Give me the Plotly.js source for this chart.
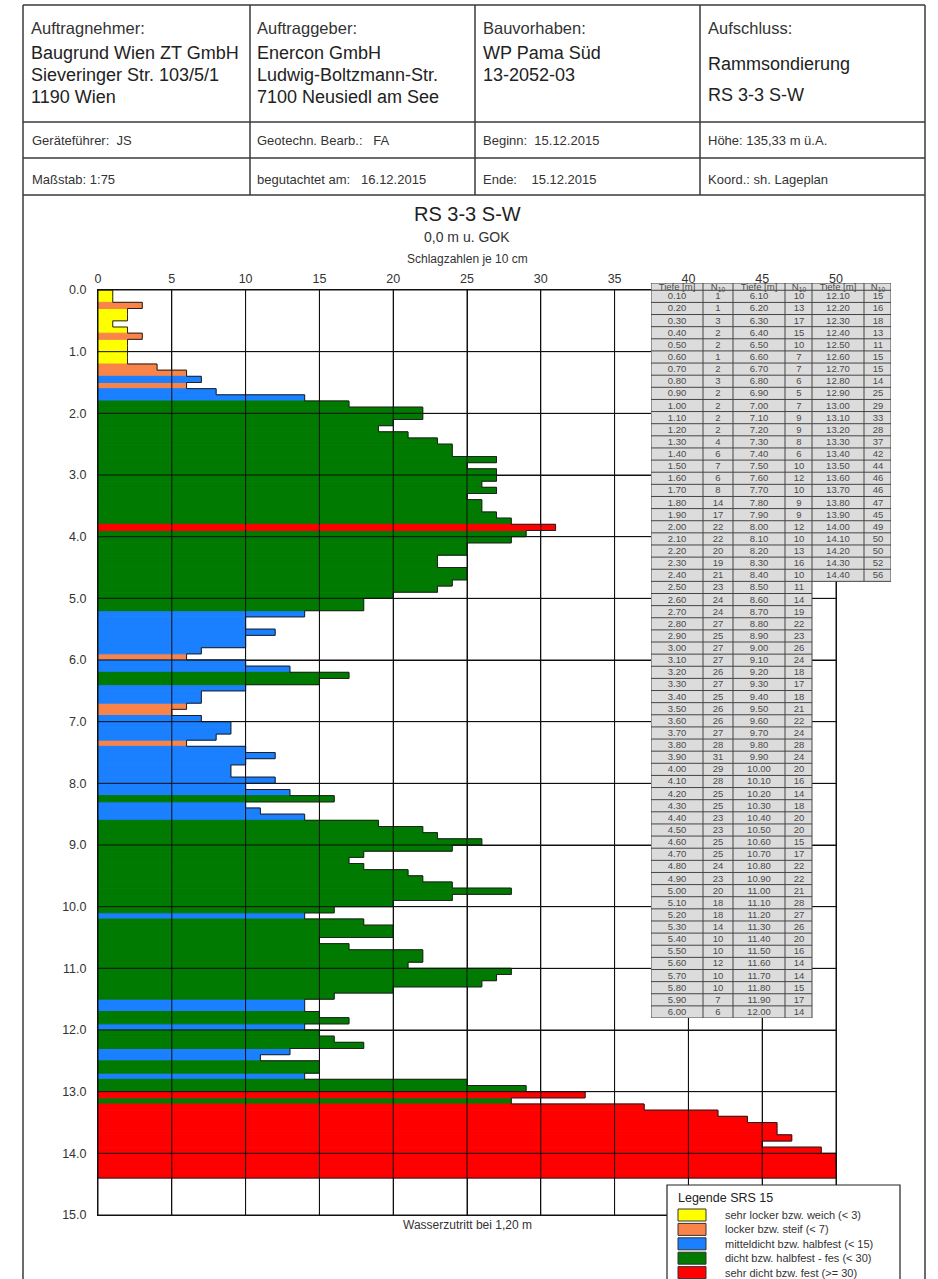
<!DOCTYPE html>
<html><head><meta charset="utf-8">
<script src="https://cdn.plot.ly/plotly-3.0.1.min.js"></script>
<style>html,body{margin:0;padding:0;background:#fff}#chart{width:938px;height:1279px}</style>
</head><body><div id="chart"></div>
<script>
// ---------- data ----------
const depths = [
0.1,0.2,0.3,0.4,0.5,0.6,0.7,0.8,0.9,1.0,
1.1,1.2,1.3,1.4,1.5,1.6,1.7,1.8,1.9,2.0,
2.1,2.2,2.3,2.4,2.5,2.6,2.7,2.8,2.9,3.0,
3.1,3.2,3.3,3.4,3.5,3.6,3.7,3.8,3.9,4.0,
4.1,4.2,4.3,4.4,4.5,4.6,4.7,4.8,4.9,5.0,
5.1,5.2,5.3,5.4,5.5,5.6,5.7,5.8,5.9,6.0,
6.1,6.2,6.3,6.4,6.5,6.6,6.7,6.8,6.9,7.0,
7.1,7.2,7.3,7.4,7.5,7.6,7.7,7.8,7.9,8.0,
8.1,8.2,8.3,8.4,8.5,8.6,8.7,8.8,8.9,9.0,
9.1,9.2,9.3,9.4,9.5,9.6,9.7,9.8,9.9,10.0,
10.1,10.2,10.3,10.4,10.5,10.6,10.7,10.8,10.9,11.0,
11.1,11.2,11.3,11.4,11.5,11.6,11.7,11.8,11.9,12.0,
12.1,12.2,12.3,12.4,12.5,12.6,12.7,12.8,12.9,13.0,
13.1,13.2,13.3,13.4,13.5,13.6,13.7,13.8,13.9,14.0,
14.1,14.2,14.3,14.4];
const blows = [
1,1,3,2,2,1,2,3,2,2,
2,2,4,6,7,6,8,14,17,22,
22,20,19,21,23,24,24,27,25,27,
27,26,27,25,26,26,27,28,31,29,
28,25,25,23,23,25,25,24,23,20,
18,18,14,10,10,12,10,10,7,6,
10,13,17,15,10,7,7,6,5,7,
9,9,8,6,10,12,10,9,9,12,
10,13,16,10,11,14,19,22,23,26,
24,18,17,18,21,22,24,28,24,20,
16,14,18,20,20,15,17,22,22,21,
28,27,26,20,16,14,14,15,17,14,
15,16,18,13,11,15,15,14,25,29,
33,28,37,42,44,46,46,47,45,49,
50,50,52,56];
const classNames = ['sehr locker bzw. weich (< 3)','locker bzw. steif (< 7)','mitteldicht bzw. halbfest (< 15)','dicht bzw. halbfest - fes (< 30)','sehr dicht bzw. fest (>= 30)'];
const classLimits = [3,7,15,30,Infinity];
const xTicks = [0,5,10,15,20,25,30,35,40,45,50];
const yTicks = [0,1,2,3,4,5,6,7,8,9,10,11,12,13,14,15];
const tableHeader = ['Tiefe [m]','N<sub>10</sub>','Tiefe [m]','N<sub>10</sub>','Tiefe [m]','N<sub>10</sub>'];
const tableRowsPerGroup = 60;
const legendTitle = 'Legende SRS 15';

// ---------- styles ----------
const classColors = ['#ffff00','#f9844a','#1a80ff','#007a00','#ff0000'];
const FONT = 'Liberation Sans, Arial, sans-serif';
const tableColWidths = [52,30,52,27,52,27];
const headerRowFrac = 0.6;
const W = 938, H = 1279;
const px = x => x / W, py = y => 1 - y / H;

const traces = [];
const binH = +(depths[1] - depths[0]).toFixed(3);

// bars per class
classLimits.forEach((lim, k) => {
  const lo = k === 0 ? -Infinity : classLimits[k-1];
  const xs = [], ys = [];
  blows.forEach((b, i) => { if (b >= lo && b < lim) { xs.push(b); ys.push(depths[i]); } });
  traces.push({type:'bar', orientation:'h', x:xs, y:ys, width:binH, offset:-binH,
    marker:{color:classColors[k], line:{width:1, color:classColors[k]}}, name:classNames[k],
    xaxis:'x', yaxis:'y', hoverinfo:'skip', showlegend:false});
});

// step outline of profile
traces.push({type:'scatter', mode:'lines', xaxis:'x', yaxis:'y',
  x:[0].concat(blows, [0]), y:[depths[0]-binH].concat(depths, [depths[depths.length-1]]),
  line:{shape:'hv', color:'#222', width:1}, hoverinfo:'skip', showlegend:false});

// grid on top of bars
const gx = [], gy = [];
xTicks.forEach(v => { gx.push(v, v, null); gy.push(yTicks[0], yTicks[yTicks.length-1], null); });
yTicks.forEach(v => { gx.push(xTicks[0], xTicks[xTicks.length-1], null); gy.push(v, v, null); });
traces.push({type:'scatter', mode:'lines', xaxis:'x', yaxis:'y', x:gx, y:gy,
  line:{color:'#111', width:1}, hoverinfo:'skip', showlegend:false});

// ---------- value table (heatmap cells on own axes) ----------
const groups = [];
for (let s = 0; s < depths.length; s += tableRowsPerGroup) {
  groups.push({d: depths.slice(s, s + tableRowsPerGroup), n: blows.slice(s, s + tableRowsPerGroup)});
}
const nCols = groups.length * 2;
const colCount = [];
groups.forEach(g => { colCount.push(g.d.length, g.d.length); });
const nRows = Math.max(...colCount);
const colEdges = [0];
tableColWidths.slice(0, nCols).forEach(w => colEdges.push(colEdges[colEdges.length-1] + w));
const rowEdges = [-headerRowFrac];
for (let r = 0; r <= nRows; r++) rowEdges.push(r);
const zTab = [], tTab = [];
zTab.push(new Array(nCols).fill(1));
tTab.push(tableHeader.slice(0, nCols));
for (let r = 0; r < nRows; r++) {
  const zr = [], tr = [];
  groups.forEach(g => {
    if (r < g.d.length) { zr.push(1, 1); tr.push(g.d[r].toFixed(2), String(g.n[r])); }
    else { zr.push(null, null); tr.push('', ''); }
  });
  zTab.push(zr); tTab.push(tr);
}
traces.push({type:'heatmap', xaxis:'x2', yaxis:'y2', x:colEdges, y:rowEdges, z:zTab, text:tTab,
  texttemplate:'%{text}', textfont:{size:9.5, color:'#4a4a4a', family:FONT},
  colorscale:[[0,'#dcdcdc'],[1,'#dcdcdc']], zmin:0, zmax:1, showscale:false,
  hoverinfo:'skip', showlegend:false});
// table borders
const bx = [], by = [];
colEdges.forEach((e, j) => {
  const ext = Math.max(colCount[j-1] || 0, colCount[j] || 0);
  bx.push(e, e, null); by.push(-headerRowFrac, ext, null);
});
rowEdges.forEach((r) => {
  let last = -1;
  colCount.forEach((c, j) => { if (r <= 0 || c >= r) last = j; });
  bx.push(colEdges[0], colEdges[last+1], null); by.push(r, r, null);
});
traces.push({type:'scatter', mode:'lines', xaxis:'x2', yaxis:'y2', x:bx, y:by,
  line:{color:'#444', width:1}, hoverinfo:'skip', showlegend:false});

// ---------- header frame ----------
const shapes = [];
const lineStyle = {color:'#3a3a3a', width:1.5};
[[5,23,925],[122,23,925],[158,23,925],[195,23,925]].forEach(([y,x0,x1]) =>
  shapes.push({type:'line', xref:'paper', yref:'paper', x0:px(x0), x1:px(x1), y0:py(y), y1:py(y), line:lineStyle}));
[[23,5,1279],[925,5,1279],[250,5,195],[475,5,195],[700,5,195]].forEach(([x,y0,y1]) =>
  shapes.push({type:'line', xref:'paper', yref:'paper', x0:px(x), x1:px(x), y0:py(y0), y1:py(y1), line:lineStyle}));

const annotations = [];
function txt(x, y, s, size, color, anchor) {
  annotations.push({xref:'paper', yref:'paper', x:px(x), y:py(y), text:s, showarrow:false,
    xanchor:anchor || 'left', yanchor:'middle', font:{family:FONT, size:size, color:color}});
}
const NB = '\u00a0';
txt(29, 28, 'Auftragnehmer:', 16.5, '#333');
txt(29, 53, 'Baugrund Wien ZT GmbH', 18, '#222');
txt(29, 75, 'Sieveringer Str. 103/5/1', 18, '#222');
txt(29, 97, '1190 Wien', 18, '#222');
txt(255, 28, 'Auftraggeber:', 16.5, '#333');
txt(255, 53, 'Enercon GmbH', 18, '#222');
txt(255, 75, 'Ludwig-Boltzmann-Str.', 18, '#222');
txt(255, 97, '7100 Neusiedl am See', 18, '#222');
txt(481, 28, 'Bauvorhaben:', 16.5, '#333');
txt(481, 53, 'WP Pama Süd', 18, '#222');
txt(481, 75, '13-2052-03', 18, '#222');
txt(706, 28, 'Aufschluss:', 16.5, '#333');
txt(706, 64, 'Rammsondierung', 18, '#222');
txt(706, 95, 'RS 3-3 S-W', 18, '#222');
txt(30, 140, 'Geräteführer:' + NB+NB + 'JS', 13, '#333');
txt(255, 140, 'Geotechn. Bearb.:' + NB+NB+NB + 'FA', 13, '#333');
txt(481, 140, 'Beginn:' + NB+NB + '15.12.2015', 13, '#333');
txt(706, 140, 'Höhe:' + NB + '135,33 m ü.A.', 13, '#333');
txt(30, 179, 'Maßstab:' + NB + '1:75', 13, '#333');
txt(255, 179, 'begutachtet am:' + NB+NB+NB + '16.12.2015', 13, '#333');
txt(481, 179, 'Ende:' + NB+NB+NB+NB + '15.12.2015', 13, '#333');
txt(706, 179, 'Koord.: sh. Lageplan', 13, '#333');
txt(467, 214, 'RS 3-3 S-W', 20, '#222', 'center');
txt(467, 237, '0,0 m u. GOK', 14, '#333', 'center');
txt(467, 259, 'Schlagzahlen je 10 cm', 12, '#333', 'center');
txt(467, 1225, 'Wasserzutritt bei 1,20 m', 12, '#333', 'center');

// ---------- legend box (built from class arrays) ----------
shapes.push({type:'rect', xref:'paper', yref:'paper', x0:px(667), x1:px(900), y0:py(1185), y1:py(1295),
  fillcolor:'#fff', line:{color:'#222', width:1.2}, layer:'above'});
txt(676, 1198, legendTitle, 12.5, '#222');
classNames.forEach((nm, k) => {
  const yc = 1215 + 14.4 * k;
  shapes.push({type:'rect', xref:'paper', yref:'paper', x0:px(678), x1:px(706), y0:py(yc - 6), y1:py(yc + 6),
    fillcolor:classColors[k], line:{color:'#333', width:1}, layer:'above'});
  txt(723, yc, nm, 11, '#333');
});

const layout = {
  width: W, height: H, margin:{l:0,r:0,t:0,b:0, autoexpand:false}, autosize:false,
  paper_bgcolor:'#fff', plot_bgcolor:'rgba(0,0,0,0)',
  font:{family:FONT, color:'#333'},
  barmode:'overlay', showlegend:false,
  xaxis:{domain:[px(98), px(836)], range:[0,50], side:'top', tickvals:xTicks, ticks:'',
    showgrid:true, gridcolor:'#111', showline:true, mirror:true, linecolor:'#111', linewidth:1,
    zeroline:false, tickfont:{size:12.5, color:'#333'}, ticklabelstandoff:1, anchor:'y', fixedrange:true},
  yaxis:{domain:[py(1215), py(290)], range:[15,0], tickvals:yTicks, tickformat:'.1f', ticks:'',
    showgrid:true, gridcolor:'#111', showline:true, mirror:true, linecolor:'#111', linewidth:1,
    zeroline:false, tickfont:{size:12.5, color:'#333'}, ticklabelstandoff:8, anchor:'x', fixedrange:true},
  xaxis2:{domain:[px(651), px(891)], range:[colEdges[0], colEdges[colEdges.length-1]], visible:false, anchor:'y2', fixedrange:true},
  yaxis2:{domain:[py(1018), py(283)], range:[nRows, -headerRowFrac], visible:false, anchor:'x2', fixedrange:true},
  shapes: shapes, annotations: annotations
};
Plotly.newPlot('chart', traces, layout, {staticPlot:true, displayModeBar:false});
</script></body></html>
